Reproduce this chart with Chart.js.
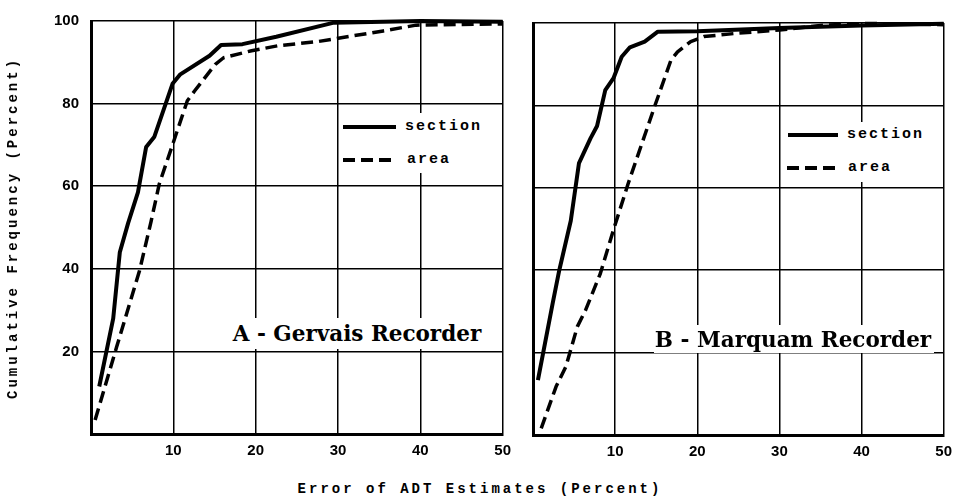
<!DOCTYPE html>
<html>
<head>
<meta charset="utf-8">
<script src="https://cdn.jsdelivr.net/npm/chart.js@4"></script>
<style>
  html, body { margin:0; padding:0; background:#fff; overflow:hidden; }
  #wrap { position:relative; width:959px; height:499px; background:#fff; }
  canvas { position:absolute; top:0; }
  .ov { position:absolute; z-index:5; }
  .box { position:absolute; background:#fff; z-index:4; }
  .mono { font-family:"Liberation Mono","DejaVu Sans Mono",monospace; font-weight:bold; color:#000; white-space:nowrap; }
  .serif { font-family:"DejaVu Serif","Liberation Serif",serif; font-weight:bold; color:#000; white-space:nowrap; }
  .solid { position:absolute; height:4px; background:#000; }
  .dash { position:absolute; height:4px; background:repeating-linear-gradient(to right,#000 0 12px,transparent 12px 18px); }
</style>
</head>
<body>
<div id="wrap">
  <canvas id="cA" width="519" height="470" style="left:0px"></canvas>
  <canvas id="cB" width="440" height="470" style="left:520px"></canvas>

  <div class="ov mono" id="ytitle" style="left:13px; top:228px; font-size:14px; letter-spacing:3px; transform:translate(-50%,-50%) rotate(-90deg);">Cumulative Frequency (Percent)</div>
  <div class="ov mono" id="xtitle" style="left:480px; top:489px; font-size:14px; letter-spacing:3px; transform:translate(-50%,-50%);">Error of ADT Estimates (Percent)</div>

  <!-- legend A -->
  <div class="box" style="left:343px; top:113px; width:145px; height:60px;"></div>
  <div class="ov solid" style="left:343px; top:125px; width:53px;"></div>
  <div class="ov mono" style="left:405px; top:127px; font-size:15px; letter-spacing:2px; transform:translateY(-55%);">section</div>
  <div class="ov dash" style="left:343px; top:158px; width:50px;"></div>
  <div class="ov mono" style="left:407px; top:160px; font-size:15px; letter-spacing:2px; transform:translateY(-55%);">area</div>

  <!-- legend B -->
  <div class="box" style="left:785px; top:122px; width:145px; height:60px;"></div>
  <div class="ov solid" style="left:788px; top:133px; width:50px;"></div>
  <div class="ov mono" style="left:847px; top:135px; font-size:15px; letter-spacing:2px; transform:translateY(-55%);">section</div>
  <div class="ov dash" style="left:787px; top:166px; width:51px;"></div>
  <div class="ov mono" style="left:848px; top:168px; font-size:15px; letter-spacing:2px; transform:translateY(-55%);">area</div>

  <!-- panel labels -->
  <div class="box" style="left:228px; top:318px; width:258px; height:31px;"></div>
  <div class="ov serif" style="left:357px; top:333px; font-size:21.5px; transform:translate(-50%,-50%);">A - Gervais Recorder</div>
  <div class="box" style="left:654px; top:325px; width:280px; height:28px;"></div>
  <div class="ov serif" style="left:793px; top:339px; font-size:21.5px; transform:translate(-50%,-50%);">B - Marquam Recorder</div>
</div>
<script>
// ---- data ----
const gervaisSectionX = [1.0, 2.7, 3.5, 4.5, 5.7, 6.7, 7.7, 9.9, 10.8, 14.4, 15.8, 18.4, 22.5, 29.5, 40, 50];
const gervaisSectionY = [11.5, 28, 44, 51, 58.5, 69.5, 72, 84.8, 87, 91.6, 94.2, 94.4, 96.2, 99.6, 100, 99.8];
const gervaisAreaX = [0.5, 3.1, 5.9, 7.3, 8.3, 9.9, 11.7, 12.6, 15.1, 16.1, 19.5, 22.7, 27.5, 35.5, 39.5, 50];
const gervaisAreaY = [3.4, 21, 39.6, 51.5, 60.6, 70, 80.7, 83.1, 89.5, 91.1, 92.8, 94, 95, 97.6, 99, 99.3];
const marquamSectionX = [0.6, 2.4, 3.2, 4.6, 5.6, 7.0, 7.8, 8.8, 9.8, 10.8, 11.8, 13.6, 15.2, 20, 30, 40, 50];
const marquamSectionY = [13.3, 32, 40, 52, 66, 72, 75, 83.7, 86.6, 91.8, 94.1, 95.5, 97.9, 98, 98.8, 99.4, 99.8];
const marquamAreaX = [1.0, 2.8, 4.0, 5.4, 6.4, 8.2, 9.8, 11.6, 14.8, 16.8, 17.6, 19.2, 20.8, 24.8, 30, 35.6, 40.4, 50];
const marquamAreaY = [1.6, 11.7, 16.6, 26.3, 30.3, 39.2, 49.8, 61.1, 79.7, 91, 93, 95.5, 96.7, 97.5, 98.3, 99.5, 99.9, 99.6];
const xTickLabels = [10, 20, 30, 40, 50];
const yTickLabels = [20, 40, 60, 80, 100];
const seriesNames = ['section', 'area'];

function pts(xs, ys) { return xs.map((x, i) => ({ x: x, y: ys[i] })); }

const tickFont = { family: '"Liberation Sans", Arial, sans-serif', size: 15, weight: 'bold' };

function makeChart(id, secX, secY, areaX, areaY, showY, yWidth, padTop, padRight, xHeight) {
  return new Chart(document.getElementById(id), {
    type: 'line',
    data: {
      datasets: [
        { label: seriesNames[0], data: pts(secX, secY), borderColor: '#000', borderWidth: 4,
          pointRadius: 0, tension: 0, borderJoinStyle: 'round', borderCapStyle: 'butt', clip: false },
        { label: seriesNames[1], data: pts(areaX, areaY), borderColor: '#000', borderWidth: 3.5,
          borderDash: [12, 6], pointRadius: 0, tension: 0, borderJoinStyle: 'round', borderCapStyle: 'butt', clip: false }
      ]
    },
    options: {
      responsive: false,
      animation: false,
      devicePixelRatio: 1,
      layout: { padding: { top: padTop, right: padRight, left: 0, bottom: 0 } },
      plugins: { legend: { display: false }, tooltip: { enabled: false }, title: { display: false } },
      scales: {
        x: {
          type: 'linear', min: 0, max: 50,
          ticks: { stepSize: 10, color: '#000', font: tickFont, padding: 8, maxRotation: 0,
            callback: v => xTickLabels.includes(v) ? String(v) : '' },
          grid: { color: '#000', lineWidth: 1.5, drawTicks: false },
          border: { display: true, color: '#000', width: 3 },
          afterFit: s => { s.height = xHeight; }
        },
        y: {
          type: 'linear', min: 0, max: 100,
          ticks: { display: showY, stepSize: 20, color: '#000', font: tickFont, padding: 12,
            callback: v => yTickLabels.includes(v) ? String(v) : '' },
          grid: { color: '#000', lineWidth: 1.5, drawTicks: false },
          border: { display: true, color: '#000', width: 3 },
          afterFit: s => { s.width = yWidth; }
        }
      }
    }
  });
}

makeChart('cA', gervaisSectionX, gervaisSectionY, gervaisAreaX, gervaisAreaY, true, 91, 20, 12, 36);
makeChart('cB', marquamSectionX, marquamSectionY, marquamAreaX, marquamAreaY, false, 13, 23, 10, 35);
</script>
</body>
</html>
